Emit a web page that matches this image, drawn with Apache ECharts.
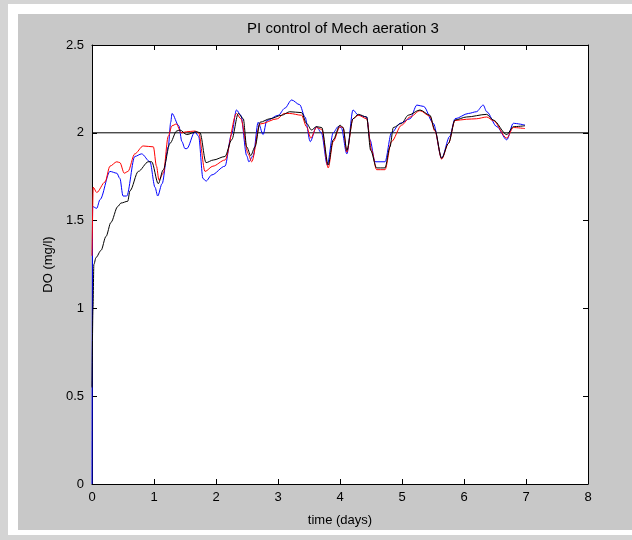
<!DOCTYPE html>
<html>
<head>
<meta charset="utf-8">
<script src="https://cdn.jsdelivr.net/npm/echarts@6/dist/echarts.min.js"></script>
<style>
  html, body { margin: 0; padding: 0; background: #d4d4d4; }
  #chart { width: 632px; height: 540px; }
</style>
</head>
<body>
<div id="chart"></div>
<script>
// Dissolved oxygen response under PI control (time in days, DO in mg/l)
const xTicks = [0, 1, 2, 3, 4, 5, 6, 7, 8];
const yTicks = [0, 0.5, 1, 1.5, 2, 2.5];

const blueT = [0, 0.01, 0.076, 0.13, 0.29, 0.40, 0.45, 0.50, 0.56, 0.69, 0.80, 0.935, 1.016, 1.06, 1.13, 1.23, 1.27, 1.29, 1.40, 1.45, 1.50, 1.53, 1.66, 1.72, 1.79, 1.84, 1.93, 2.145, 2.25, 2.33, 2.40, 2.495, 2.53, 2.60, 2.68, 2.76, 2.82, 3.006, 3.11, 3.22, 3.35, 3.435, 3.52, 3.62, 3.70, 3.795, 3.89, 3.97, 4.02, 4.11, 4.21, 4.295, 4.43, 4.484, 4.565, 4.726, 4.83, 4.97, 5.13, 5.24, 5.35, 5.505, 5.64, 5.77, 5.855, 6.07, 6.20, 6.31, 6.366, 6.53, 6.69, 6.795, 6.984];
const blueDO = [0, 1.58, 1.57, 1.62, 1.78, 1.77, 1.74, 1.64, 1.64, 1.865, 1.88, 1.835, 1.69, 1.64, 1.71, 1.92, 2.06, 2.11, 2.04, 1.95, 1.91, 1.91, 2.006, 1.98, 1.74, 1.725, 1.76, 1.81, 1.99, 2.13, 2.10, 1.87, 1.835, 1.87, 2.06, 1.99, 2.07, 2.10, 2.14, 2.187, 2.16, 2.09, 1.95, 2.035, 2.0, 1.817, 2.0, 2.035, 2.03, 1.88, 2.13, 2.10, 2.09, 1.96, 1.835, 1.835, 2.0, 2.054, 2.08, 2.158, 2.15, 2.054, 1.855, 1.98, 2.08, 2.11, 2.12, 2.158, 2.12, 2.035, 1.96, 2.054, 2.044];

const redT = [0, 0.02, 0.076, 0.21, 0.29, 0.40, 0.45, 0.52, 0.58, 0.69, 0.825, 0.99, 1.04, 1.08, 1.15, 1.23, 1.29, 1.36, 1.44, 1.527, 1.66, 1.72, 1.823, 1.95, 2.145, 2.33, 2.40, 2.52, 2.575, 2.71, 2.99, 3.10, 3.19, 3.38, 3.46, 3.53, 3.62, 3.705, 3.81, 3.89, 4.0, 4.05, 4.11, 4.21, 4.295, 4.43, 4.51, 4.59, 4.726, 4.83, 4.995, 5.13, 5.29, 5.45, 5.53, 5.64, 5.75, 5.855, 6.04, 6.20, 6.366, 6.47, 6.69, 6.795, 6.984];
const redDO = [1.3, 1.69, 1.66, 1.72, 1.81, 1.835, 1.83, 1.77, 1.78, 1.88, 1.925, 1.92, 1.81, 1.73, 1.77, 1.98, 2.04, 2.05, 2.0, 2.006, 2.01, 2.0, 1.78, 1.81, 1.845, 2.11, 2.08, 1.88, 1.835, 2.05, 2.08, 2.11, 2.11, 2.10, 2.035, 1.97, 2.03, 2.02, 1.80, 1.95, 2.035, 2.03, 1.89, 2.08, 2.10, 2.08, 1.90, 1.79, 1.79, 1.95, 2.044, 2.09, 2.126, 2.095, 2.01, 1.85, 1.94, 2.07, 2.077, 2.08, 2.09, 2.07, 1.97, 2.03, 2.024];

const blackT = [0, 0.016, 0.03, 0.065, 0.145, 0.226, 0.306, 0.415, 0.468, 0.576, 0.613, 0.747, 0.908, 0.963, 1.069, 1.15, 1.258, 1.366, 1.419, 1.527, 1.689, 1.742, 1.839, 1.956, 2.145, 2.253, 2.36, 2.44, 2.495, 2.56, 2.629, 2.71, 2.871, 3.06, 3.19, 3.38, 3.46, 3.54, 3.62, 3.705, 3.81, 3.89, 4.0, 4.05, 4.11, 4.21, 4.295, 4.43, 4.495, 4.59, 4.726, 4.806, 4.86, 4.995, 5.10, 5.29, 5.45, 5.53, 5.64, 5.75, 5.855, 6.04, 6.366, 6.47, 6.69, 6.795, 6.984];
const blackDO = [0.55, 1.0, 1.25, 1.29, 1.33, 1.41, 1.49, 1.58, 1.60, 1.61, 1.67, 1.78, 1.835, 1.835, 1.71, 1.79, 1.94, 2.01, 2.016, 1.99, 2.006, 2.0, 1.83, 1.845, 1.865, 1.96, 2.11, 2.08, 1.92, 1.87, 1.92, 2.06, 2.08, 2.10, 2.12, 2.115, 2.054, 2.016, 2.035, 2.03, 1.817, 1.96, 2.044, 2.03, 1.90, 2.08, 2.105, 2.09, 1.90, 1.80, 1.80, 1.92, 2.03, 2.054, 2.10, 2.13, 2.10, 2.016, 1.855, 1.94, 2.073, 2.09, 2.105, 2.073, 1.99, 2.035, 2.04];

// Setpoint
const setT = [0, 8];
const setDO = [2, 2];

const pair = (t, v) => t.map((x, i) => [x, v[i]]);

const FONT = "'Liberation Sans', 'DejaVu Sans', sans-serif";
const labelStyle = { color: '#000', fontFamily: FONT, fontSize: 13 };

const baseX = {
  type: 'value', min: xTicks[0], max: xTicks[xTicks.length - 1], interval: 1,
  axisLine: { show: true, onZero: false, lineStyle: { color: '#000', width: 1 } },
  axisTick: { show: true, inside: true, length: 5, lineStyle: { color: '#000' } },
  splitLine: { show: false }
};
const baseY = {
  type: 'value', min: yTicks[0], max: yTicks[yTicks.length - 1], interval: 0.5,
  axisLine: { show: true, onZero: false, lineStyle: { color: '#000', width: 1 } },
  axisTick: { show: true, inside: true, length: 5, lineStyle: { color: '#000' } },
  splitLine: { show: false }
};

const line = (name, data, color, smooth) => ({
  name, type: 'line', data, showSymbol: false, symbol: 'none',
  smooth: smooth, smoothMonotone: 'x',
  lineStyle: { color, width: 1 }, itemStyle: { color },
  xAxisIndex: 0, yAxisIndex: 0, animation: false
});

const chart = echarts.init(document.getElementById('chart'), null, { renderer: 'canvas' });
chart.setOption({
  animation: false,
  backgroundColor: '#d4d4d4',
  graphic: [
    { type: 'rect', z: -100, silent: true, shape: { x: 8, y: 4, width: 640, height: 531 }, style: { fill: '#ffffff' } },
    { type: 'rect', z: -99, silent: true, shape: { x: 18, y: 14, width: 620, height: 516 }, style: { fill: '#c8c8c8' } }
  ],
  title: {
    text: 'PI control of Mech aeration 3',
    left: 338, top: 16, textAlign: 'center',
    textStyle: { color: '#000', fontFamily: FONT, fontSize: 15, fontWeight: 'normal' }
  },
  grid: { left: 92, top: 45, width: 496, height: 439, show: true, backgroundColor: '#ffffff', borderWidth: 0 },
  xAxis: [
    Object.assign({}, baseX, {
      position: 'bottom',
      axisLabel: Object.assign({ margin: 7 }, labelStyle),
      name: 'time (days)', nameLocation: 'middle', nameGap: 30,
      nameTextStyle: labelStyle
    }),
    Object.assign({}, baseX, { position: 'top', axisLabel: { show: false } })
  ],
  yAxis: [
    Object.assign({}, baseY, {
      position: 'left',
      axisLabel: Object.assign({ margin: 8 }, labelStyle),
      name: 'DO (mg/l)', nameLocation: 'middle', nameGap: 36,
      nameTextStyle: labelStyle
    }),
    Object.assign({}, baseY, { position: 'right', axisLabel: { show: false } })
  ],
  series: [
    line('setpoint', pair(setT, setDO), '#000000', false),
    line('blue', pair(blueT, blueDO), '#0000ff', 0.3),
    line('red', pair(redT, redDO), '#ff0000', 0.3),
    line('black', pair(blackT, blackDO), '#000000', 0.3)
  ]
});
</script>
</body>
</html>
